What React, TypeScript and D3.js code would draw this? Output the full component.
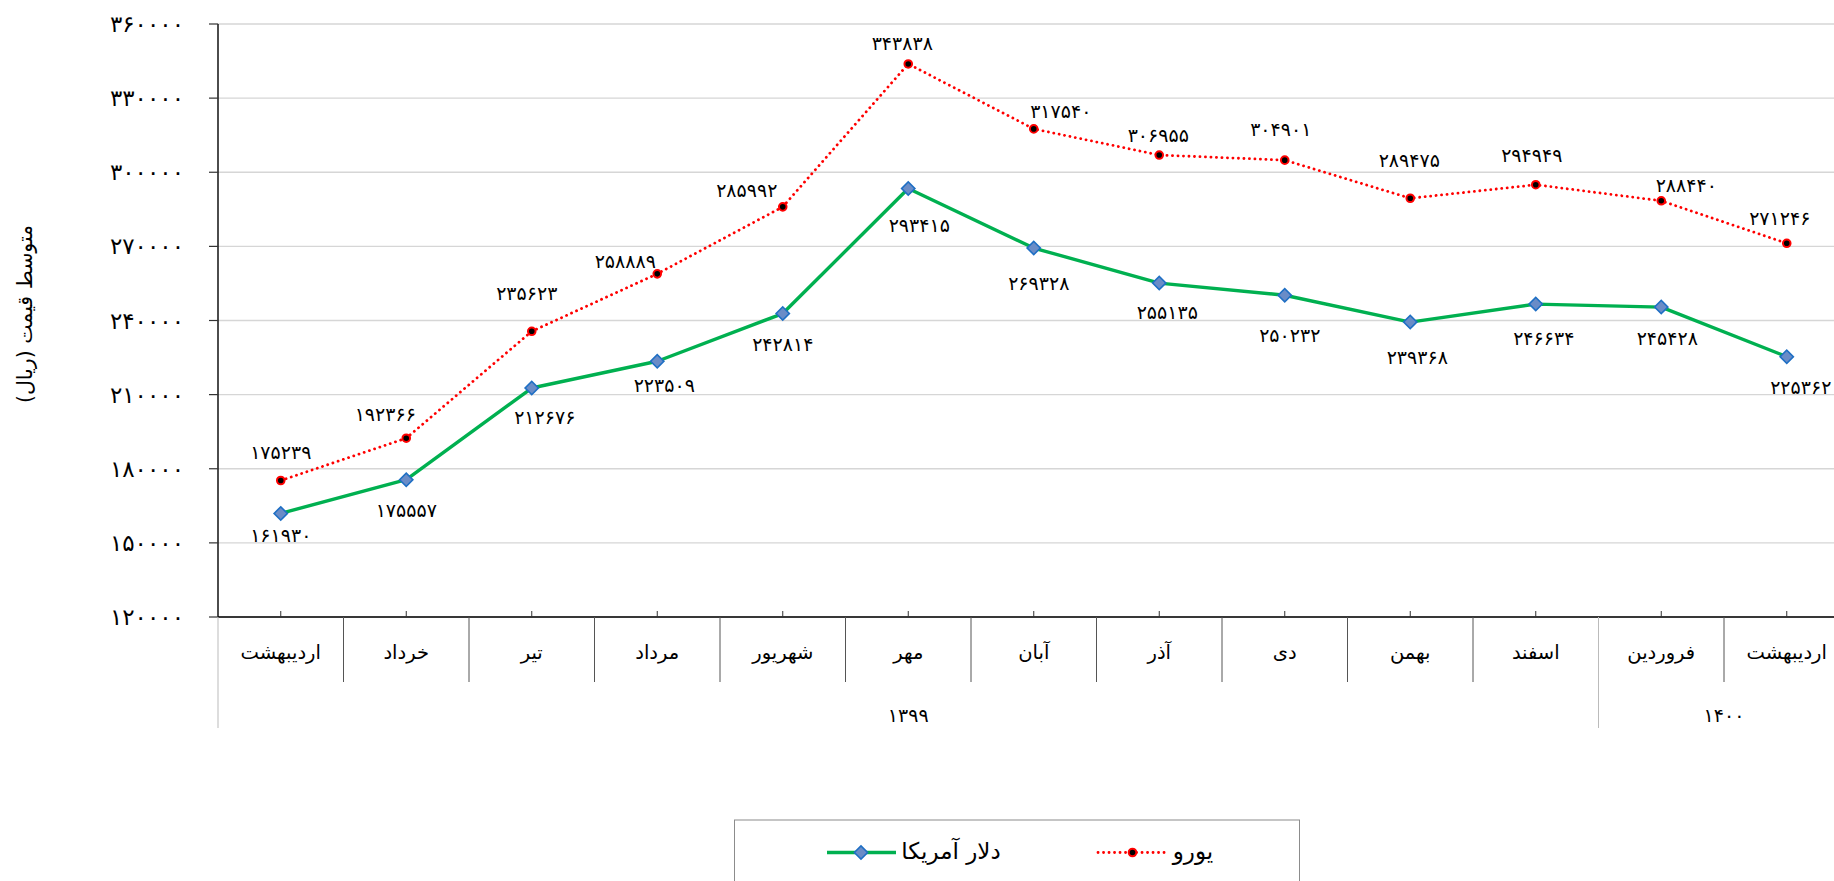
import React from 'react';
import * as d3 from 'd3';

// months (Persian calendar), 1399 -> 1400
const months = ['اردیبهشت', 'خرداد', 'تیر', 'مرداد', 'شهریور', 'مهر', 'آبان', 'آذر', 'دی', 'بهمن', 'اسفند', 'فروردین', 'اردیبهشت'];
const years = ['1399', '1400'];
const yearSpan = [11, 2];

const dollar = [161930, 175557, 212676, 223509, 242814, 293415, 269328, 255135, 250232, 239368, 246634, 245428, 225362];
const euro = [175239, 192366, 235623, 258889, 285992, 343838, 317540, 306955, 304901, 289475, 294949, 288440, 271246];

const yTicks = [120000, 150000, 180000, 210000, 240000, 270000, 300000, 330000, 360000];

// hand-placed label nudges (dx, dy) like the original
const euroNudge = [[0, -29], [-21, -24], [-5, -38], [-32, -13], [-36, -17], [-6, -21], [27, -18], [-1, -20], [-4, -31], [-1, -38], [-4, -30], [25, -16], [-7, -25]];
const dollarNudge = [[0, 22], [0, 30], [13, 29], [7, 24], [0, 30], [11, 36], [5, 35], [8, 29], [5, 40], [7, 35], [8, 34], [6, 31], [14, 30]];

const W = 1834;
const H = 881;
const margin = { left: 218, top: 24, bottom: 617 };
const band = 125.5;

const fa = (v: number | string) => String(v).replace(/[0-9]/g, (c) => '۰۱۲۳۴۵۶۷۸۹'[+c]);

const FONT = '"DejaVu Sans", sans-serif';

export default function App() {
  const idx = months.map((_, i) => i);
  const x = d3.scaleBand<number>().domain(idx).range([margin.left, margin.left + band * months.length]).padding(0);
  const cx = (i: number) => (x(i) as number) + x.bandwidth() / 2;
  const y = d3.scaleLinear().domain([120000, 360000]).range([margin.bottom, margin.top]);

  const line = d3.line<number>().x((_, i) => cx(i)).y((d) => y(d));
  const diamond = d3.symbol().type(d3.symbolSquare).size(88)();

  const right = margin.left + band * months.length;

  let acc = 0;
  const yearBlocks = years.map((yr, k) => {
    const from = acc;
    acc += yearSpan[k];
    return { yr, x0: x(from) as number, x1: (x(acc - 1) as number) + x.bandwidth() };
  });
  const isYearEdge = (px: number) => yearBlocks.some((b) => Math.abs(b.x0 - px) < 1);

  return (
    <svg width={W} height={H} style={{ position: 'absolute', left: 0, top: 0, background: '#fff' }} fontFamily={FONT}>
      {/* gridlines */}
      {yTicks.map((t) => (
        <line key={t} x1={margin.left} x2={right} y1={y(t)} y2={y(t)} stroke="#d6d6d6" strokeWidth={1.4} />
      ))}
      {/* y axis */}
      <line x1={margin.left} x2={margin.left} y1={margin.top} y2={margin.bottom} stroke="#000" strokeWidth={1.4} />
      {yTicks.map((t) => (
        <g key={'t' + t}>
          <line x1={margin.left - 9} x2={margin.left} y1={y(t)} y2={y(t)} stroke="#333" strokeWidth={1.2} />
          <text x={184} y={y(t)} textAnchor="end" dominantBaseline="central" fontSize={23} fill="#000">{fa(t)}</text>
        </g>
      ))}
      <text transform={`translate(25,314) rotate(-90)`} textAnchor="middle" dominantBaseline="central" fontSize={20.5}>متوسط قیمت (ریال)</text>

      {/* x axis */}
      <line x1={margin.left} x2={right} y1={margin.bottom} y2={margin.bottom} stroke="#000" strokeWidth={1.6} />
      {idx.map((i) => {
        const bx = x(i) as number;
        return (
          <g key={'c' + i}>
            <line x1={cx(i)} x2={cx(i)} y1={margin.bottom - 6} y2={margin.bottom} stroke="#333" />
            <text x={cx(i)} y={652} textAnchor="middle" dominantBaseline="central" fontSize={19.5}>{months[i]}</text>
            {i > 0 && (
              <line x1={bx} x2={bx} y1={margin.bottom} y2={isYearEdge(bx) ? 728 : 682}
                stroke={isYearEdge(bx) ? '#bbb' : '#555'} strokeWidth={1} />
            )}
          </g>
        );
      })}
      <line x1={margin.left} x2={margin.left} y1={margin.bottom} y2={728} stroke="#bbb" />
      {yearBlocks.map((b) => (
        <text key={b.yr} x={(b.x0 + b.x1) / 2} y={715} textAnchor="middle" dominantBaseline="central" fontSize={19}>{fa(b.yr)}</text>
      ))}

      {/* euro */}
      <path d={line(euro) as string} fill="none" stroke="#ff0000" strokeWidth={2.8} strokeDasharray="0.1 5.4" strokeLinecap="round" />
      {euro.map((v, i) => (
        <circle key={'e' + i} cx={cx(i)} cy={y(v)} r={3.8} fill="#000" stroke="#ff0000" strokeWidth={2} />
      ))}
      {euro.map((v, i) => (
        <text key={'el' + i} x={cx(i) + euroNudge[i][0]} y={y(v) + euroNudge[i][1]} textAnchor="middle" dominantBaseline="central" fontSize={19}>{fa(v)}</text>
      ))}

      {/* dollar */}
      <path d={line(dollar) as string} fill="none" stroke="#00b050" strokeWidth={3.4} strokeLinejoin="round" />
      {dollar.map((v, i) => (
        <path key={'d' + i} d={diamond as string} transform={`translate(${cx(i)},${y(v)}) rotate(45)`} fill="#6a8cc7" stroke="#1f6fc4" strokeWidth={1.6} />
      ))}
      {dollar.map((v, i) => (
        <text key={'dl' + i} x={cx(i) + dollarNudge[i][0]} y={y(v) + dollarNudge[i][1]} textAnchor="middle" dominantBaseline="central" fontSize={19}>{fa(v)}</text>
      ))}

      {/* legend */}
      <rect x={734.5} y={820} width={565} height={80} fill="#fff" stroke="#8c8c8c" strokeWidth={1} />
      <line x1={827} x2={896} y1={852.5} y2={852.5} stroke="#00b050" strokeWidth={3.4} />
      <path d={diamond as string} transform="translate(861,852.5) rotate(45)" fill="#6a8cc7" stroke="#1f6fc4" strokeWidth={1.6} />
      <text x={951} y={851} textAnchor="middle" dominantBaseline="central" fontSize={23}>دلار آمریکا</text>
      <line x1={1098} x2={1168} y1={852.5} y2={852.5} stroke="#ff0000" strokeWidth={2.8} strokeDasharray="0.1 5.4" strokeLinecap="round" />
      <circle cx={1132.5} cy={852.5} r={3.8} fill="#000" stroke="#ff0000" strokeWidth={2} />
      <text x={1193} y={851} textAnchor="middle" dominantBaseline="central" fontSize={23}>یورو</text>
    </svg>
  );
}
